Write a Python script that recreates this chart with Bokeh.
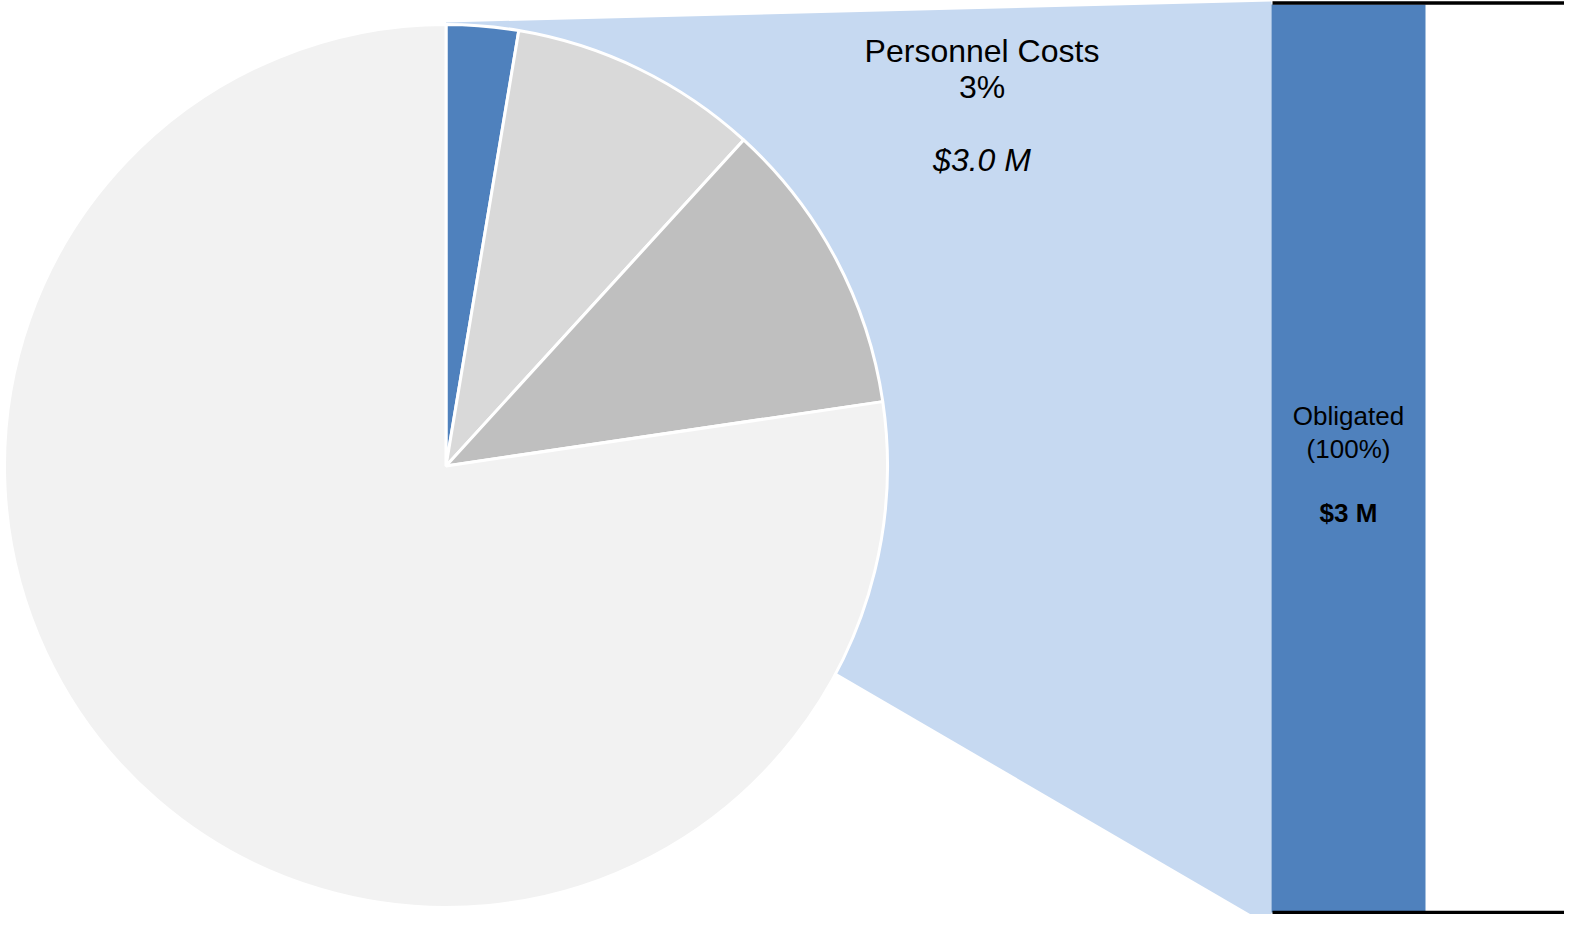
import math
from bokeh.plotting import figure
from bokeh.models import Range1d, ColumnDataSource
from bokeh.core.properties import value
from bokeh.embed import file_html
from bokeh.resources import INLINE

# ---- data ----
pie_labels = ["Personnel Costs", "Other A", "Other B", "Remaining"]
pie_values = [3.0, 10.4, 12.4, 88.0]          # $M
pie_colors = ["#4F81BD", "#D9D9D9", "#BFBFBF", "#F2F2F2"]
bar_labels = ["Obligated"]
bar_values = [3.0]                              # $M
bar_pct = [100]

FONT = "Liberation Sans"

W, H = 1564, 914
p = figure(width=W, height=H, output_backend="svg", toolbar_location=None,
           x_range=Range1d(0, W), y_range=Range1d(930 - H, 930),
           min_border=0, outline_line_color=None)
p.axis.visible = False
p.grid.visible = False
p.background_fill_color = "white"
p.border_fill_color = "white"

def Y(py):  # picture pixel y -> data y
    return 930 - py

# pie geometry
cx, cy, r = 445.5, Y(465.5), 441.5

# connector (zoom) polygon behind pie
bar_left, bar_right = 1271, 1425
p.patch([cx, bar_left, bar_left, cx], [Y(22), Y(1), Y(926), Y(445)],
        fill_color="#C6D9F1", line_color=None)

# pie wedges, clockwise from 12 o'clock
total = sum(pie_values)
starts, ends = [], []
cum = 0.0
for v in pie_values:
    starts.append(math.pi / 2 - 2 * math.pi * cum / total)
    cum += v
    ends.append(math.pi / 2 - 2 * math.pi * cum / total)
src = ColumnDataSource(dict(start=starts, end=ends, color=pie_colors, label=pie_labels))
p.wedge(x=cx, y=cy, radius=r, start_angle="start", end_angle="end", direction="clock",
        fill_color="color", line_color="white", line_width=3, source=src)

# bar on its own scale: 0 .. bar total maps to picture y 912 .. 4
btot = sum(bar_values)
px_per = btot / 908.0
p.extra_y_ranges = {"bar": Range1d(-2 * px_per, btot + 4 * px_per)}
bsrc = ColumnDataSource(dict(left=[bar_left], right=[bar_right], bottom=[0.0], top=[bar_values[0]]))
p.quad(left="left", right="right", bottom="bottom", top="top", source=bsrc,
       fill_color="#4F81BD", line_color=None, y_range_name="bar")
p.segment(x0=[bar_left + 1, bar_left + 1], x1=[1578, 1578],
          y0=[0.0, btot + 1.5 * px_per], y1=[0.0, btot + 1.5 * px_per],
          line_color="black", line_width=3.5, y_range_name="bar")

# labels
lx = 981.5
dy = 11
pct = round(pie_values[0] / total * 100)
p.text(x=[lx], y=[Y(61 - dy)], text=[pie_labels[0]], text_font=value(FONT), text_font_size="32px",
       text_align="center", text_baseline="alphabetic", text_color="black")
p.text(x=[lx], y=[Y(97 - dy)], text=[f"{pct}%"], text_font=value(FONT), text_font_size="32px",
       text_align="center", text_baseline="alphabetic", text_color="black")
p.text(x=[lx], y=[Y(170 - dy)], text=[f"${pie_values[0]:.1f} M"], text_font=value(FONT), text_font_size="32px",
       text_font_style="italic", text_align="center", text_baseline="alphabetic", text_color="black")

bx = (bar_left + bar_right) / 2
p.text(x=[bx], y=[Y(426 - dy)], text=[bar_labels[0]], text_font=value(FONT), text_font_size="26px",
       text_align="center", text_baseline="alphabetic", text_color="black")
p.text(x=[bx], y=[Y(459 - dy)], text=[f"({bar_pct[0]}%)"], text_font=value(FONT), text_font_size="26px",
       text_align="center", text_baseline="alphabetic", text_color="black")
p.text(x=[bx], y=[Y(523 - dy)], text=[f"${bar_values[0]:.0f} M"], text_font=value(FONT), text_font_size="26px",
       text_font_style="bold", text_align="center", text_baseline="alphabetic", text_color="black")

open("out.html", "w").write(file_html(p, INLINE))
